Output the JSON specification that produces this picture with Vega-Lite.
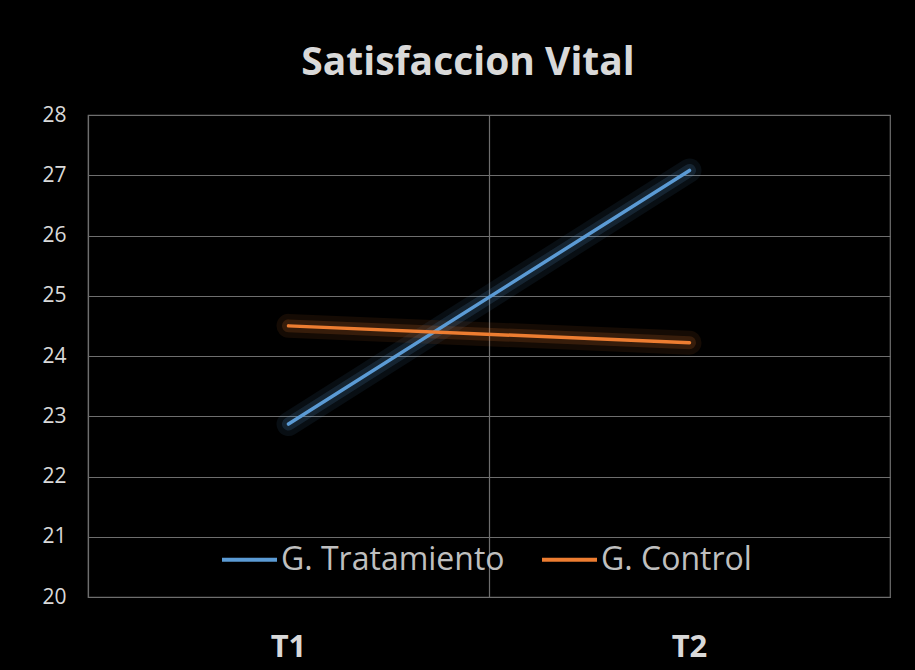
{
  "$schema": "https://vega.github.io/schema/vega-lite/v6.json",
  "width": 802,
  "height": 482,
  "autosize": {"type": "none"},
  "padding": {"left": 88, "top": 115, "right": 25, "bottom": 73},
  "background": "#000000",
  "title": {
    "text": "Satisfaccion Vital",
    "font": "Open Sans",
    "fontSize": 39,
    "fontWeight": "bold",
    "color": "#d9d9d9",
    "anchor": "middle",
    "dx": -21,
    "offset": 21
  },
  "config": {
    "view": {"stroke": "#6e6e6e", "strokeWidth": 1.2},
    "font": "Open Sans"
  },
  "data": {
    "values": [
      {"grupo": "G. Tratamiento", "tiempo": "T1", "valor": 22.87},
      {"grupo": "G. Tratamiento", "tiempo": "T2", "valor": 27.08},
      {"grupo": "G. Control", "tiempo": "T1", "valor": 24.5},
      {"grupo": "G. Control", "tiempo": "T2", "valor": 24.22}
    ]
  },
  "encoding": {
    "x": {
      "field": "tiempo",
      "type": "nominal",
      "scale": {"type": "band", "paddingInner": 0, "paddingOuter": 0},
      "axis": {
        "title": null,
        "domain": false,
        "ticks": false,
        "tickSize": 0,
        "grid": true,
        "bandPosition": 0,
        "gridColor": "#6e6e6e",
        "gridWidth": 1.2,
        "labelAngle": 0,
        "labelFont": "Open Sans",
        "labelFontSize": 31,
        "labelFontWeight": "bold",
        "labelColor": "#d9d9d9",
        "labelPadding": 35
      }
    },
    "y": {
      "field": "valor",
      "type": "quantitative",
      "scale": {"domain": [20, 28], "nice": false, "zero": false},
      "axis": {
        "title": null,
        "domain": false,
        "ticks": false,
        "tickSize": 0,
        "values": [20, 21, 22, 23, 24, 25, 26, 27, 28],
        "labelOverlap": false,
        "grid": true,
        "gridColor": "#6e6e6e",
        "gridWidth": 1.2,
        "labelFont": "Open Sans",
        "labelFontSize": 21,
        "labelColor": "#d9d9d9",
        "labelPadding": 22
      }
    },
    "color": {
      "field": "grupo",
      "type": "nominal",
      "sort": ["G. Tratamiento", "G. Control"],
      "scale": {"domain": ["G. Tratamiento", "G. Control"], "range": ["#5b9bd5", "#ed7d31"]},
      "legend": {
        "title": null,
        "orient": "none",
        "direction": "horizontal",
        "legendX": 132,
        "legendY": 415,
        "symbolType": "stroke",
        "symbolSize": 3025,
        "symbolStrokeWidth": 4,
        "symbolOpacity": 1,
        "labelFont": "Open Sans",
        "labelFontSize": 32,
        "labelColor": "#bfbfbf",
        "labelOffset": 2,
        "columnPadding": 29,
        "labelLimit": 400
      }
    }
  },
  "layer": [
    {
      "mark": {"type": "line", "strokeWidth": 24, "opacity": 0.09, "strokeCap": "round"}
    },
    {
      "mark": {"type": "line", "strokeWidth": 13, "opacity": 0.16, "strokeCap": "round"}
    },
    {
      "mark": {"type": "line", "strokeWidth": 3.5, "strokeCap": "round"}
    }
  ]
}
